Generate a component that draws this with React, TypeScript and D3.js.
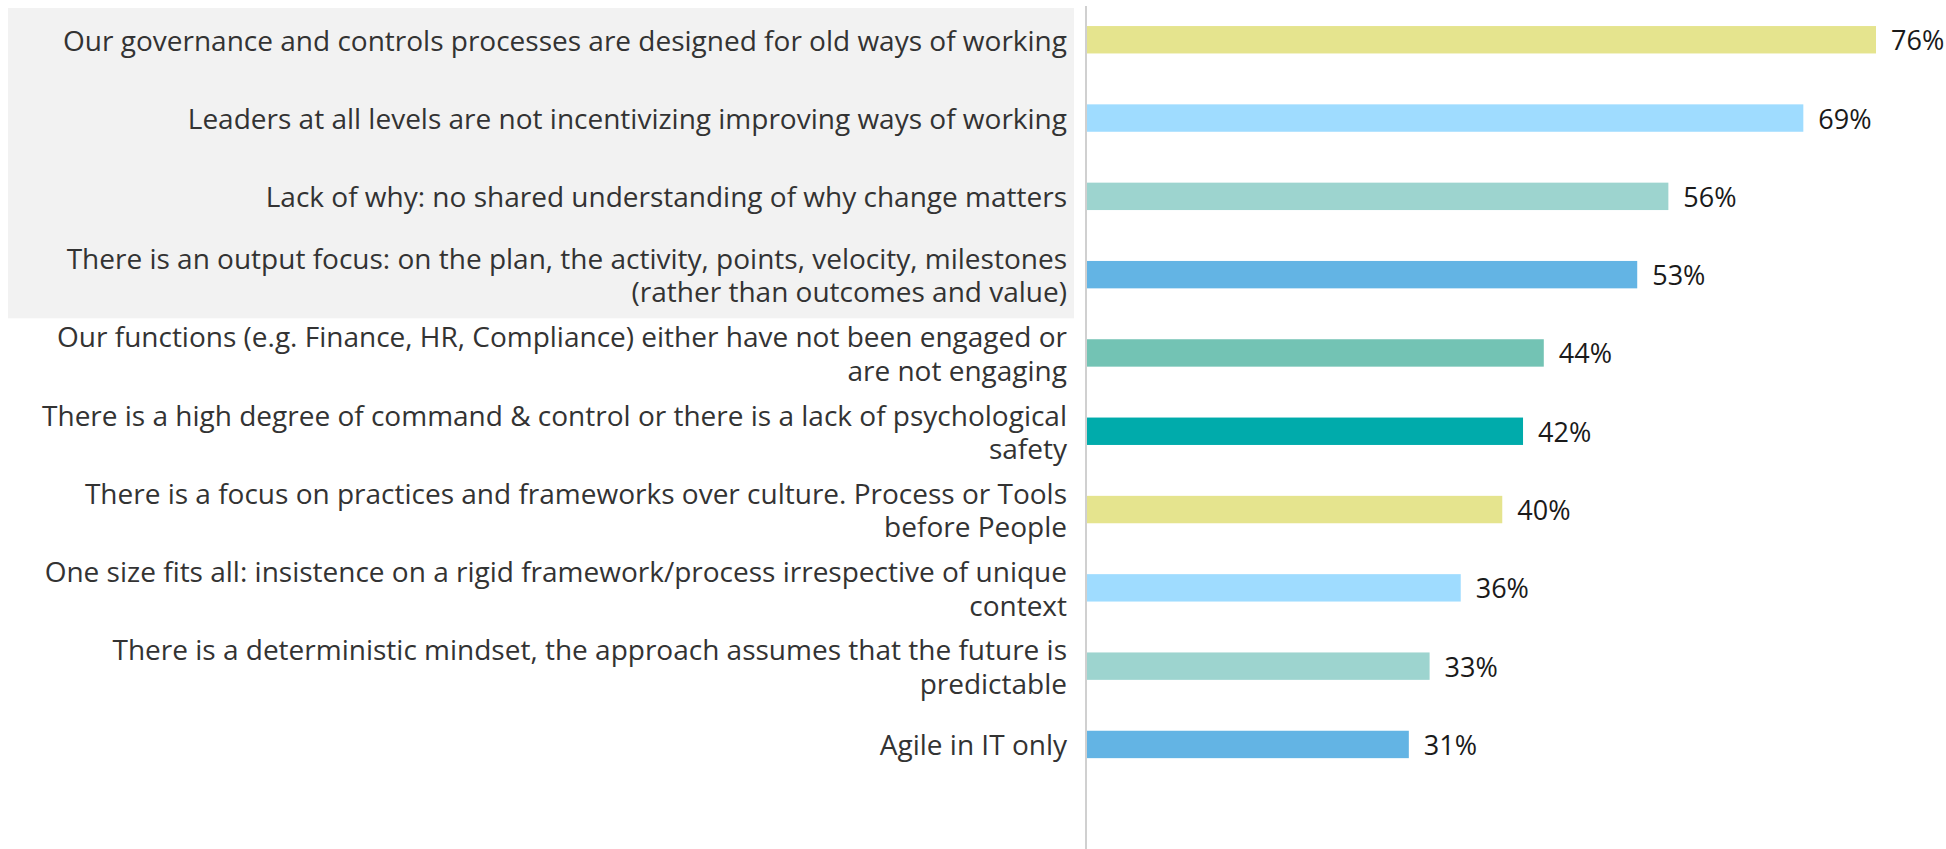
import React, { useRef, useEffect } from "react";
import * as d3 from "d3";

const categories = [
  "Our governance and controls processes are designed for old ways of working",
  "Leaders at all levels are not incentivizing improving ways of working",
  "Lack of why: no shared understanding of why change matters",
  "There is an output focus: on the plan, the activity, points, velocity, milestones\n(rather than outcomes and value)",
  "Our functions (e.g. Finance, HR, Compliance) either have not been engaged or\nare not engaging",
  "There is a high degree of command & control or there is a lack of psychological\nsafety",
  "There is a focus on practices and frameworks over culture. Process or Tools\nbefore People",
  "One size fits all: insistence on a rigid framework/process irrespective of unique\ncontext",
  "There is a deterministic mindset, the approach assumes that the future is\npredictable",
  "Agile in IT only",
];

const values = [76, 69, 56, 53, 44, 42, 40, 36, 33, 31];

const barColors = [
  "#e5e48e",
  "#9fdcff",
  "#9dd4cf",
  "#63b4e4",
  "#73c3b4",
  "#00abab",
  "#e5e48e",
  "#9fdcff",
  "#9dd4cf",
  "#63b4e4",
];

// first four rows sit on a grey highlight panel
const highlighted = 4;

const width = 1946;
const height = 849;

const App = () => {
  const svgRef = useRef(null);

  useEffect(() => {
    document.body.style.margin = "0";
    document.body.style.overflow = "hidden";

    const svg = d3.select(svgRef.current);
    svg.selectAll("*").remove();

    const axisX = 1086;
    const xScale = d3.scaleLinear().domain([0, 76]).range([axisX + 1, 1876]);
    const yScale = d3
      .scaleBand()
      .domain(categories)
      .range([0.6, 783.6])
      .paddingInner(0.65)
      .paddingOuter(0.325);
    const bw = yScale.bandwidth();

    // highlight panel behind the top rows
    const panelTop = yScale(categories[0]) - 18;
    const panelBottom = yScale(categories[highlighted - 1]) + bw + 30;
    svg
      .append("rect")
      .attr("x", 8)
      .attr("y", panelTop)
      .attr("width", 1074 - 8)
      .attr("height", panelBottom - panelTop)
      .attr("fill", "#f2f2f2");

    // bars
    svg
      .selectAll(".bar")
      .data(values)
      .enter()
      .append("rect")
      .attr("x", xScale(0))
      .attr("y", (d, i) => yScale(categories[i]))
      .attr("width", (d) => xScale(d) - xScale(0))
      .attr("height", bw)
      .attr("fill", (d, i) => barColors[i]);

    // value labels
    svg
      .selectAll(".val")
      .data(values)
      .enter()
      .append("text")
      .attr("x", (d) => xScale(d) + 15)
      .attr("y", (d, i) => yScale(categories[i]) + bw / 2)
      .attr("dominant-baseline", "central")
      .attr("font-family", "'Open Sans', sans-serif")
      .attr("font-size", 27)
      .attr("fill", "#1a1a1a")
      .text((d) => `${d}%`);

    // category labels, wrapped like the original
    const lineHeight = 33.5;
    categories.forEach((cat, i) => {
      const lines = cat.split("\n");
      const cy = yScale(cat) + bw / 2;
      const t = svg
        .append("text")
        .attr("text-anchor", "end")
        .attr("font-family", "'Open Sans', sans-serif")
        .attr("font-size", 28)
        .attr("fill", "#333333");
      lines.forEach((ln, j) => {
        t.append("tspan")
          .attr("x", 1067)
          .attr("y", cy + (j - (lines.length - 1) / 2) * lineHeight)
          .attr("dominant-baseline", "central")
          .text(ln);
      });
    });

    // vertical axis line
    svg
      .append("line")
      .attr("x1", axisX)
      .attr("x2", axisX)
      .attr("y1", 6)
      .attr("y2", height)
      .attr("stroke", "#d0d0d0")
      .attr("stroke-width", 2);
  }, []);

  return <svg ref={svgRef} width={width} height={height} style={{ display: "block" }}></svg>;
};

export default App;
